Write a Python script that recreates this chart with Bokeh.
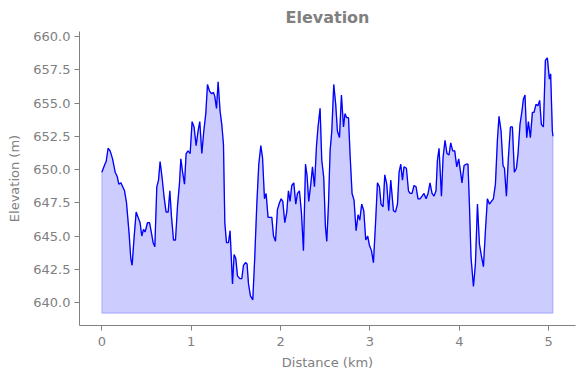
from bokeh.plotting import figure
from bokeh.models import Range1d, FixedTicker, PrintfTickFormatter
from bokeh.embed import file_html
from bokeh.resources import INLINE

distance_km = [
    0.000, 0.034, 0.048, 0.070, 0.093, 0.120, 0.149, 0.171, 0.190, 0.213,
    0.227, 0.254, 0.276, 0.305, 0.324, 0.339, 0.361, 0.384, 0.406, 0.428,
    0.447, 0.466, 0.484, 0.511, 0.534, 0.556, 0.574, 0.593, 0.615, 0.634,
    0.652, 0.674, 0.697, 0.719, 0.742, 0.761, 0.780, 0.802, 0.824, 0.847,
    0.869, 0.884, 0.906, 0.925, 0.943, 0.965, 0.988, 1.010, 1.032, 1.055,
    1.077, 1.096, 1.119, 1.141, 1.163, 1.182, 1.205, 1.227, 1.249, 1.264,
    1.283, 1.301, 1.323, 1.342, 1.361, 1.376, 1.395, 1.417, 1.435, 1.462,
    1.480, 1.499, 1.518, 1.544, 1.566, 1.585, 1.607, 1.625, 1.641, 1.663,
    1.689, 1.711, 1.734, 1.756, 1.779, 1.798, 1.820, 1.838, 1.860, 1.883,
    1.902, 1.921, 1.943, 1.965, 1.988, 2.006, 2.025, 2.047, 2.069, 2.088,
    2.106, 2.125, 2.148, 2.170, 2.189, 2.211, 2.234, 2.256, 2.279, 2.297,
    2.315, 2.338, 2.357, 2.379, 2.402, 2.419, 2.442, 2.461, 2.483, 2.502,
    2.517, 2.536, 2.554, 2.573, 2.595, 2.617, 2.636, 2.659, 2.681, 2.704,
    2.721, 2.740, 2.760, 2.777, 2.800, 2.822, 2.845, 2.867, 2.886, 2.908,
    2.931, 2.953, 2.975, 2.994, 3.017, 3.039, 3.062, 3.084, 3.106, 3.124,
    3.147, 3.166, 3.188, 3.210, 3.233, 3.263, 3.285, 3.308, 3.326, 3.345,
    3.364, 3.381, 3.408, 3.431, 3.449, 3.471, 3.493, 3.516, 3.538, 3.560,
    3.583, 3.605, 3.628, 3.650, 3.672, 3.695, 3.717, 3.739, 3.755, 3.773,
    3.800, 3.818, 3.840, 3.862, 3.885, 3.904, 3.926, 3.949, 3.971, 3.993,
    4.012, 4.030, 4.053, 4.075, 4.097, 4.113, 4.131, 4.158, 4.180, 4.203,
    4.225, 4.247, 4.270, 4.292, 4.314, 4.337, 4.359, 4.381, 4.404, 4.426,
    4.444, 4.467, 4.489, 4.505, 4.527, 4.549, 4.572, 4.594, 4.616, 4.639,
    4.657, 4.679, 4.701, 4.717, 4.735, 4.754, 4.773, 4.795, 4.818, 4.836,
    4.858, 4.880, 4.899, 4.918, 4.941, 4.963, 4.985, 5.008, 5.022, 5.041,
    5.048,
]

elevation_m = [
    649.8, 650.4, 650.6, 651.6, 651.4, 650.8, 649.8, 649.5, 648.9, 649.0,
    648.8, 648.4, 647.5, 645.2, 643.3, 642.8, 644.9, 646.8, 646.4, 646.0,
    645.0, 645.5, 645.3, 646.0, 646.0, 645.2, 644.5, 644.2, 648.7, 649.2,
    650.6, 649.4, 647.9, 646.8, 646.8, 648.4, 646.4, 644.7, 644.7, 647.3,
    649.0, 650.8, 649.7, 648.9, 651.2, 651.4, 651.2, 653.6, 653.2, 651.8,
    652.9, 653.6, 651.2, 652.9, 654.2, 656.4, 655.9, 655.7, 655.8, 655.5,
    654.6, 656.6, 654.4, 653.4, 651.9, 646.0, 644.5, 644.5, 645.4, 641.4,
    643.6, 643.3, 642.0, 641.8, 641.8, 642.8, 643.0, 642.9, 641.4, 640.5,
    640.2, 643.4, 647.4, 650.4, 651.8, 650.9, 647.8, 648.2, 646.4, 646.4,
    646.4, 645.0, 644.6, 647.0, 647.5, 647.8, 647.6, 646.0, 646.8, 648.4,
    647.6, 648.8, 649.0, 647.4, 648.2, 648.4, 646.7, 643.9, 650.4, 649.5,
    647.6, 648.9, 650.2, 648.7, 651.8, 653.2, 654.6, 650.7, 649.4, 645.7,
    644.6, 647.4, 651.4, 652.9, 656.4, 654.9, 652.9, 652.4, 655.6, 653.2,
    654.2, 653.9, 653.9, 651.2, 648.2, 647.7, 645.4, 646.6, 646.2, 647.4,
    646.9, 644.7, 645.0, 644.3, 643.9, 643.0, 645.9, 649.0, 648.7, 647.4,
    647.2, 649.6, 648.9, 646.9, 649.2, 646.9, 646.8, 647.4, 649.8, 650.4,
    649.2, 650.2, 650.1, 648.4, 648.2, 648.2, 648.8, 648.7, 647.8, 647.8,
    648.0, 648.2, 647.8, 648.2, 649.0, 648.2, 648.0, 648.4, 650.7, 651.6,
    648.0, 650.9, 652.2, 651.2, 651.1, 652.0, 651.4, 651.4, 650.2, 650.8,
    649.9, 649.0, 650.3, 650.4, 650.4, 647.4, 643.4, 641.2, 642.9, 647.4,
    644.4, 643.5, 642.7, 645.4, 647.8, 647.4, 647.6, 647.8, 648.9, 652.2,
    654.0, 652.9, 650.3, 650.1, 648.0, 650.9, 653.2, 653.2, 649.8, 650.1,
    651.2, 653.4, 654.4, 655.3, 655.6, 652.4, 653.6, 652.4, 654.3, 654.3,
    654.9, 654.8, 655.2, 653.4, 653.2, 658.2, 658.4, 656.8, 657.2, 652.9,
    652.5,
]

x_ticks = [0, 1, 2, 3, 4, 5]
y_ticks = [640.0, 642.5, 645.0, 647.5, 650.0, 652.5, 655.0, 657.5, 660.0]

base = min(elevation_m) - 1.0
poly_x = distance_km + distance_km[::-1]
poly_y = elevation_m + [base] * len(distance_km)

GRAY = "#808080"

p = figure(width=584, height=378, output_backend="svg", toolbar_location=None,
           x_range=Range1d(-0.25, 5.30), y_range=Range1d(638.27, 660.38),
           title="Elevation")
p.min_border_left = 79
p.min_border_right = 9
p.min_border_top = 31
p.min_border_bottom = 53
p.outline_line_color = None
p.background_fill_color = "white"
p.border_fill_color = "white"
p.xgrid.grid_line_color = None
p.ygrid.grid_line_color = None

p.title.align = "center"
p.title.text_color = GRAY
p.title.text_font = "DejaVu Sans"
p.title.text_font_size = "16px"
p.title.text_font_style = "bold"

p.patch(poly_x, poly_y, fill_color="blue", fill_alpha=0.2,
        line_color="blue", line_alpha=0.2, line_width=1.2)
p.line(distance_km, elevation_m, line_color="blue", line_width=1.3)

for ax in (p.xaxis[0], p.yaxis[0]):
    ax.axis_line_color = GRAY
    ax.axis_line_width = 1
    ax.major_tick_line_color = GRAY
    ax.major_tick_out = 5
    ax.major_tick_in = 0
    ax.minor_tick_line_color = None
    ax.major_label_text_color = GRAY
    ax.major_label_text_font = "DejaVu Sans"
    ax.major_label_text_font_size = "13px"
    ax.axis_label_text_color = GRAY
    ax.axis_label_text_font = "DejaVu Sans"
    ax.axis_label_text_font_size = "13px"
    ax.axis_label_text_font_style = "normal"

p.xaxis.axis_label = "Distance (km)"
p.yaxis.axis_label = "Elevation (m)"
p.xaxis.ticker = FixedTicker(ticks=x_ticks)
p.yaxis.ticker = FixedTicker(ticks=y_ticks)
p.yaxis.formatter = PrintfTickFormatter(format="%.1f")
p.xaxis.major_label_standoff = 6
p.yaxis.major_label_standoff = 4
p.xaxis.axis_label_standoff = 6
p.yaxis.axis_label_standoff = 8

open("out.html", "w").write(file_html(p, INLINE))
